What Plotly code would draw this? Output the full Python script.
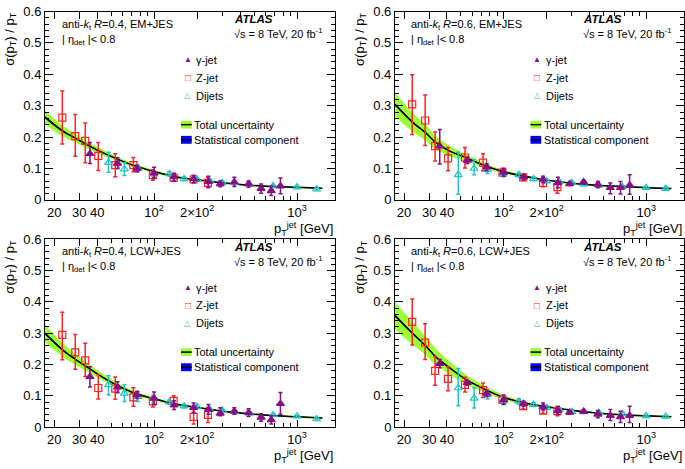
import plotly.graph_objects as go

# jet pT bins (GeV) of the three in-situ methods
pt_gamma = [35.6, 55.5, 76, 100, 138, 189, 240, 290, 364, 458, 560, 660, 765]
pt_z = [22.8, 28.1, 33.0, 40.7, 53.5, 71.6, 98, 137, 189, 238]
pt_dijet = [48, 62, 77, 99, 128, 162, 200, 245, 300, 365, 465, 680, 1000, 1370]
# points along the combined fit curve
pt_fit = [17.3, 23, 28.3, 33.3, 40.8, 55.4, 71.7, 97, 140, 200, 340, 580, 1000, 1500]

# ---- anti-kt R=0.4, EM+JES ----
em4_fit = [0.263, 0.219, 0.196, 0.178, 0.157, 0.130, 0.110, 0.092, 0.074, 0.064, 0.052, 0.044, 0.040, 0.037]
em4_band = [0.022, 0.017, 0.014, 0.012, 0.010, 0.007, 0.006, 0.005, 0.004, 0.003, 0.003, 0.003, 0.003, 0.003]
em4_gam = [0.147, 0.116, 0.100, 0.085, 0.073, 0.067, 0.058, 0.051, 0.057, 0.051, 0.036, 0.029, 0.044]
em4_gam_hi = [0.183, 0.134, 0.110, 0.104, 0.085, 0.078, 0.075, 0.060, 0.072, 0.060, 0.051, 0.044, 0.070]
em4_gam_lo = [0.116, 0.100, 0.090, 0.070, 0.060, 0.055, 0.040, 0.042, 0.043, 0.040, 0.021, 0.014, 0.020]
em4_z = [0.262, 0.203, 0.188, 0.140, 0.111, 0.111, 0.079, 0.070, 0.065, 0.054]
em4_z_hi = [0.347, 0.272, 0.245, 0.183, 0.147, 0.135, 0.096, 0.083, 0.078, 0.072]
em4_z_lo = [0.178, 0.139, 0.118, 0.094, 0.074, 0.090, 0.063, 0.060, 0.055, 0.039]
em4_dij = [0.119, 0.098, 0.100, 0.082, 0.083, 0.067, 0.065, 0.060, 0.055, 0.054, 0.049, 0.044, 0.041, 0.034]
em4_dij_hi = [0.152, 0.118, 0.110, 0.090, 0.090, 0.072, 0.070, 0.065, 0.059, 0.058, 0.053, 0.048, 0.044, 0.037]
em4_dij_lo = [0.088, 0.078, 0.090, 0.074, 0.076, 0.062, 0.060, 0.055, 0.051, 0.050, 0.045, 0.040, 0.038, 0.031]

# ---- anti-kt R=0.6, EM+JES ----
em6_fit = [0.304, 0.247, 0.214, 0.183, 0.158, 0.133, 0.111, 0.091, 0.075, 0.063, 0.051, 0.044, 0.039, 0.036]
em6_band = [0.038, 0.030, 0.025, 0.021, 0.017, 0.011, 0.008, 0.006, 0.004, 0.003, 0.003, 0.003, 0.003, 0.003]
em6_gam = [0.171, 0.126, 0.104, 0.088, 0.073, 0.065, 0.054, 0.051, 0.057, 0.049, 0.039, 0.039, 0.047]
em6_gam_hi = [0.224, 0.135, 0.115, 0.101, 0.080, 0.075, 0.072, 0.056, 0.062, 0.059, 0.054, 0.059, 0.080]
em6_gam_lo = [0.114, 0.116, 0.093, 0.075, 0.064, 0.055, 0.039, 0.046, 0.051, 0.039, 0.020, 0.019, 0.018]
em6_z = [0.304, 0.253, 0.171, 0.132, 0.135, 0.119, 0.087, 0.072, 0.054, 0.041]
em6_z_hi = [0.399, 0.334, 0.216, 0.167, 0.167, 0.147, 0.100, 0.080, 0.062, 0.060]
em6_z_lo = [0.208, 0.173, 0.124, 0.093, 0.102, 0.093, 0.075, 0.062, 0.042, 0.021]
em6_dij = [0.080, 0.100, 0.096, 0.082, 0.080, 0.067, 0.060, 0.058, 0.055, 0.050, 0.046, 0.042, 0.039, 0.036]
em6_dij_hi = [0.152, 0.128, 0.110, 0.090, 0.086, 0.072, 0.065, 0.063, 0.059, 0.054, 0.050, 0.046, 0.042, 0.039]
em6_dij_lo = [0.018, 0.080, 0.084, 0.074, 0.074, 0.062, 0.055, 0.053, 0.051, 0.046, 0.042, 0.038, 0.036, 0.033]

# ---- anti-kt R=0.4, LCW+JES ----
lc4_fit = [0.299, 0.246, 0.216, 0.195, 0.168, 0.133, 0.110, 0.092, 0.074, 0.063, 0.048, 0.039, 0.033, 0.029]
lc4_band = [0.028, 0.022, 0.018, 0.015, 0.012, 0.009, 0.007, 0.005, 0.004, 0.003, 0.003, 0.003, 0.003, 0.003]
lc4_gam = [0.161, 0.128, 0.103, 0.092, 0.070, 0.062, 0.056, 0.044, 0.051, 0.046, 0.031, 0.023, 0.075]
lc4_gam_hi = [0.193, 0.145, 0.115, 0.112, 0.084, 0.077, 0.072, 0.062, 0.062, 0.059, 0.043, 0.036, 0.111]
lc4_gam_lo = [0.128, 0.110, 0.092, 0.072, 0.056, 0.047, 0.041, 0.036, 0.041, 0.034, 0.019, 0.010, 0.041]
lc4_z = [0.295, 0.239, 0.213, 0.125, 0.123, 0.095, 0.082, 0.084, 0.033, 0.039]
lc4_z_hi = [0.367, 0.296, 0.268, 0.167, 0.160, 0.126, 0.098, 0.100, 0.056, 0.062]
lc4_z_lo = [0.215, 0.185, 0.162, 0.090, 0.089, 0.067, 0.064, 0.067, 0.010, 0.015]
lc4_dij = [0.135, 0.108, 0.097, 0.092, 0.080, 0.067, 0.065, 0.056, 0.053, 0.049, 0.044, 0.039, 0.035, 0.026]
lc4_dij_hi = [0.164, 0.135, 0.113, 0.103, 0.087, 0.072, 0.070, 0.061, 0.057, 0.053, 0.048, 0.043, 0.038, 0.029]
lc4_dij_lo = [0.103, 0.082, 0.082, 0.077, 0.073, 0.062, 0.060, 0.051, 0.049, 0.045, 0.040, 0.035, 0.032, 0.023]

# ---- anti-kt R=0.6, LCW+JES ----
lc6_fit = [0.356, 0.299, 0.260, 0.225, 0.193, 0.150, 0.124, 0.097, 0.077, 0.065, 0.051, 0.041, 0.036, 0.033]
lc6_band = [0.044, 0.036, 0.030, 0.026, 0.021, 0.015, 0.011, 0.008, 0.005, 0.004, 0.003, 0.003, 0.003, 0.003]
lc6_gam = [0.203, 0.142, 0.108, 0.087, 0.075, 0.065, 0.053, 0.047, 0.050, 0.041, 0.037, 0.033, 0.037]
lc6_gam_hi = [0.217, 0.150, 0.118, 0.103, 0.082, 0.077, 0.066, 0.052, 0.055, 0.053, 0.056, 0.051, 0.067]
lc6_gam_lo = [0.190, 0.134, 0.098, 0.072, 0.067, 0.055, 0.041, 0.042, 0.045, 0.030, 0.021, 0.015, 0.015]
lc6_z = [0.336, 0.270, 0.180, 0.154, 0.135, 0.118, 0.087, 0.067, 0.053, 0.051]
lc6_z_hi = [0.409, 0.330, 0.226, 0.193, 0.159, 0.141, 0.098, 0.075, 0.063, 0.066]
lc6_z_lo = [0.262, 0.216, 0.134, 0.116, 0.112, 0.095, 0.077, 0.058, 0.044, 0.036]
lc6_dij = [0.125, 0.092, 0.103, 0.084, 0.082, 0.072, 0.062, 0.056, 0.049, 0.049, 0.046, 0.043, 0.036, 0.034]
lc6_dij_hi = [0.187, 0.126, 0.118, 0.096, 0.090, 0.078, 0.068, 0.061, 0.053, 0.053, 0.050, 0.047, 0.039, 0.037]
lc6_dij_lo = [0.068, 0.061, 0.090, 0.073, 0.074, 0.066, 0.056, 0.051, 0.045, 0.045, 0.042, 0.039, 0.033, 0.031]

# statistical component of the fit (very thin)
stat_band = [0.004, 0.003, 0.002, 0.002, 0.0015, 0.001, 0.001, 0.001, 0.001, 0.001, 0.001, 0.001, 0.001, 0.001]

x_ticks = [20, 30, 40, 100, 200, 1000]
x_ticktext = ["20", "30", "40", "10<sup>2</sup>", "2×10<sup>2</sup>", "10<sup>3</sup>"]
x_minor = [50, 60, 70, 80, 90, 300, 400, 500, 600, 700, 800, 900]

FONT = "Liberation Sans, Arial, Helvetica, sans-serif"
GREEN = "#99ff33"
BLUE = "#0000ff"
PURPLE = "#880e88"
RED = "#ff2222"
CYAN = "#22c4c4"

panels = [
    dict(label="anti-<i>k</i><sub>t</sub> <i>R</i>=0.4, EM+JES", xd=[0.0657, 0.489], yd=[0.5751, 0.990],
         fit=em4_fit, band=em4_band, gam=(em4_gam, em4_gam_hi, em4_gam_lo),
         z=(em4_z, em4_z_hi, em4_z_lo), dij=(em4_dij, em4_dij_hi, em4_dij_lo)),
    dict(label="anti-<i>k</i><sub>t</sub> <i>R</i>=0.6, EM+JES", xd=[0.5766, 0.9985], yd=[0.5751, 0.990],
         fit=em6_fit, band=em6_band, gam=(em6_gam, em6_gam_hi, em6_gam_lo),
         z=(em6_z, em6_z_hi, em6_z_lo), dij=(em6_dij, em6_dij_hi, em6_dij_lo)),
    dict(label="anti-<i>k</i><sub>t</sub> <i>R</i>=0.4, LCW+JES", xd=[0.0657, 0.489], yd=[0.0746, 0.4883],
         fit=lc4_fit, band=lc4_band, gam=(lc4_gam, lc4_gam_hi, lc4_gam_lo),
         z=(lc4_z, lc4_z_hi, lc4_z_lo), dij=(lc4_dij, lc4_dij_hi, lc4_dij_lo)),
    dict(label="anti-<i>k</i><sub>t</sub> <i>R</i>=0.6, LCW+JES", xd=[0.5766, 0.9985], yd=[0.0746, 0.4883],
         fit=lc6_fit, band=lc6_band, gam=(lc6_gam, lc6_gam_hi, lc6_gam_lo),
         z=(lc6_z, lc6_z_hi, lc6_z_lo), dij=(lc6_dij, lc6_dij_hi, lc6_dij_lo)),
]

fig = go.Figure()
annotations = []
shapes = []


def band_traces(fig, xa, ya, centre, half, color):
    lower = [c - h for c, h in zip(centre, half)]
    upper = [c + h for c, h in zip(centre, half)]
    fig.add_trace(go.Scatter(x=pt_fit, y=lower, mode="lines", line=dict(width=0, shape="spline"),
                             xaxis=xa, yaxis=ya, showlegend=False, hoverinfo="skip"))
    fig.add_trace(go.Scatter(x=pt_fit, y=upper, mode="lines", line=dict(width=0, shape="spline"),
                             fill="tonexty", fillcolor=color, xaxis=xa, yaxis=ya,
                             showlegend=False, hoverinfo="skip"))


def points(fig, xa, ya, x, data, symbol, color, size):
    y, hi, lo = data
    fig.add_trace(go.Scatter(
        x=x, y=y, mode="markers", xaxis=xa, yaxis=ya, showlegend=False,
        marker=dict(symbol=symbol, size=size, color=color, line=dict(color=color, width=1.2)),
        error_y=dict(type="data", symmetric=False,
                     array=[h - v for h, v in zip(hi, y)],
                     arrayminus=[v - l for v, l in zip(y, lo)],
                     color=color, thickness=1.5, width=2),
    ))


for i, p in enumerate(panels):
    n = i + 1
    xa = "x" if n == 1 else "x%d" % n
    ya = "y" if n == 1 else "y%d" % n
    band_traces(fig, xa, ya, p["fit"], p["band"], GREEN)
    band_traces(fig, xa, ya, p["fit"], stat_band, BLUE)
    fig.add_trace(go.Scatter(x=pt_fit, y=p["fit"], mode="lines", xaxis=xa, yaxis=ya,
                             line=dict(color="black", width=1.5, shape="spline"), showlegend=False))
    points(fig, xa, ya, pt_z, p["z"], "square-open", RED, 7)
    points(fig, xa, ya, pt_dijet, p["dij"], "triangle-up-open", CYAN, 7)
    points(fig, xa, ya, pt_gamma, p["gam"], "triangle-up", PURPLE, 7)

    axis_common = dict(showline=True, linecolor="black", linewidth=1, mirror="ticks",
                       ticks="inside", tickcolor="black", showgrid=False, zeroline=False,
                       tickfont=dict(family=FONT, size=13, color="black"))
    fig.layout[xa.replace("x", "xaxis")] = dict(
        type="log", range=[1.237, 3.265], domain=p["xd"], anchor=ya,
        tickmode="array", tickvals=x_ticks, ticktext=x_ticktext, ticklen=7,
        minor=dict(tickvals=x_minor, ticks="inside", ticklen=4, tickcolor="black"),
        **axis_common)
    fig.layout[ya.replace("y", "yaxis")] = dict(
        range=[0, 0.6], domain=p["yd"], anchor=xa, dtick=0.1, ticklen=8,
        minor=dict(dtick=0.02, ticks="inside", ticklen=4, tickcolor="black"),
        **axis_common)

    xdom = xa + " domain"
    ydom = ya + " domain"
    txt = dict(xref=xdom, yref=ydom, showarrow=False, xanchor="left", yanchor="middle",
               font=dict(family=FONT, size=11, color="black"))
    annotations += [
        dict(x=0.05, y=0.93, text=p["label"], **txt),
        dict(x=0.05, y=0.85, text="| η<sub>det</sub> |< 0.8", **txt),
        dict(x=0.645, y=0.96, text="<b><i>ATLAS</i></b>", **{**txt, "font": dict(family=FONT, size=11.5, color="black")}),
        dict(x=0.645, y=0.885, text="√s = 8 TeV, 20 fb<sup>-1</sup>", **txt),
        dict(x=0.515, y=0.743, text="γ-jet", **txt),
        dict(x=0.515, y=0.648, text="Z-jet", **txt),
        dict(x=0.515, y=0.554, text="Dijets", **txt),
        dict(x=0.508, y=0.40, text="Total uncertainty", **txt),
        dict(x=0.508, y=0.319, text="Statistical component", **txt),
        dict(x=0.493, y=0.743, text="▲", **{**txt, "xanchor": "center", "font": dict(size=8, color=PURPLE)}),
        dict(x=0.493, y=0.648, text="□", **{**txt, "xanchor": "center", "font": dict(size=10, color=RED)}),
        dict(x=0.493, y=0.554, text="△", **{**txt, "xanchor": "center", "font": dict(size=8, color=CYAN)}),
        # axis titles
        dict(xref=xdom, yref=ydom, x=-0.12, y=1.01, text="σ(p<sub>T</sub>) / p<sub>T</sub>",
             textangle=-90, showarrow=False, xanchor="center", yanchor="top",
             font=dict(family=FONT, size=13, color="black")),
        dict(xref=xdom, yref=ydom, x=1.0, y=-0.155, text="p<sub>T</sub><sup>jet</sup> [GeV]",
             showarrow=False, xanchor="right", yanchor="middle",
             font=dict(family=FONT, size=13, color="black")),
    ]
    for y0, y1, col in [(0.379, 0.420, GREEN), (0.298, 0.340, BLUE)]:
        shapes.append(dict(type="rect", xref=xdom, yref=ydom, x0=0.469, x1=0.506, y0=y0, y1=y1,
                           fillcolor=col, line=dict(width=0)))
        shapes.append(dict(type="line", xref=xdom, yref=ydom, x0=0.469, x1=0.506,
                           y0=(y0 + y1) / 2, y1=(y0 + y1) / 2, line=dict(color="black", width=1.5)))

fig.update_layout(
    width=685, height=469, margin=dict(l=0, r=0, t=0, b=0),
    paper_bgcolor="white", plot_bgcolor="white",
    font=dict(family=FONT, size=12, color="black"),
    annotations=annotations, shapes=shapes, showlegend=False,
)

# drop the page's default body margin so the figure fills the window
fig.write_html("out.html", config={"displayModeBar": False},
               post_script="document.body.style.margin='0px';")
